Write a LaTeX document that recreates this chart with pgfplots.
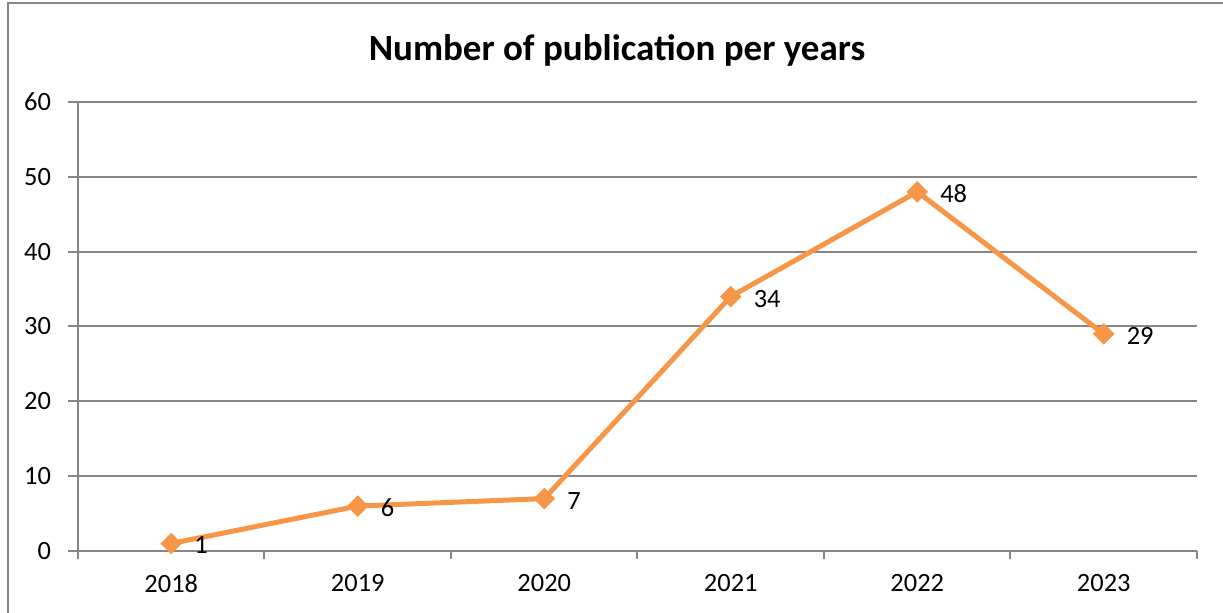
\documentclass[border=0pt]{standalone}
\usepackage{pgfplots}
\pgfplotsset{compat=1.18}
\usepackage{fontspec}
\setmainfont{Carlito}
\definecolor{axgray}{HTML}{868686}
\definecolor{lineorange}{HTML}{F79646}
\begin{document}
\begin{tikzpicture}[x=0.5pt,y=0.5pt]
\useasboundingbox (0,0) rectangle (1223,613);
\draw[axgray, line width=1pt] (8,0) -- (8,610) -- (1223,610);
\node[font=\fontsize{18.5}{20}\selectfont\bfseries] at (617,563) {Number of publication per years};
\begin{axis}[
  at={(39pt,31pt)}, anchor=south west,
  scale only axis, width=559.5pt, height=224.5pt,
  xmin=-0.5, xmax=5.5, ymin=0, ymax=60,
  axis x line=bottom, axis y line=left,
  axis line style={axgray, line width=1pt, -},
  xtick={0,...,5},
  xticklabels={2018,2019,2020,2021,2022,2023},
  minor xtick={-0.5,0.5,...,5.5},
  ytick={0,10,...,60},
  tick align=outside,
  major x tick style={draw=none},
  minor x tick style={axgray, line width=1pt},
  major y tick style={axgray, line width=1pt},
  minor tick length=4pt, major tick length=5pt,
  ymajorgrids, grid style={axgray, line width=1pt},
  ticklabel style={font=\fontsize{13.2}{15}\selectfont},
  /pgf/number format/assume math mode=true,
  yticklabel style={xshift=-5pt},
  xticklabel style={yshift=-3pt},
  clip=false,
]
\addplot[lineorange, line width=2.5pt, mark=square*,
  mark options={solid, rotate=45, line width=0.4pt, fill=lineorange},
  mark size=3.6pt,
  nodes near coords,
  nodes near coords style={anchor=west, xshift=8pt, yshift=-1pt, text=black, font=\fontsize{13.2}{15}\selectfont},
  point meta=explicit symbolic]
  coordinates {(0,1)[1] (1,6)[6] (2,7)[7] (3,34)[34] (4,48)[48] (5,29)[29]};
\end{axis}
\end{tikzpicture}
\end{document}
